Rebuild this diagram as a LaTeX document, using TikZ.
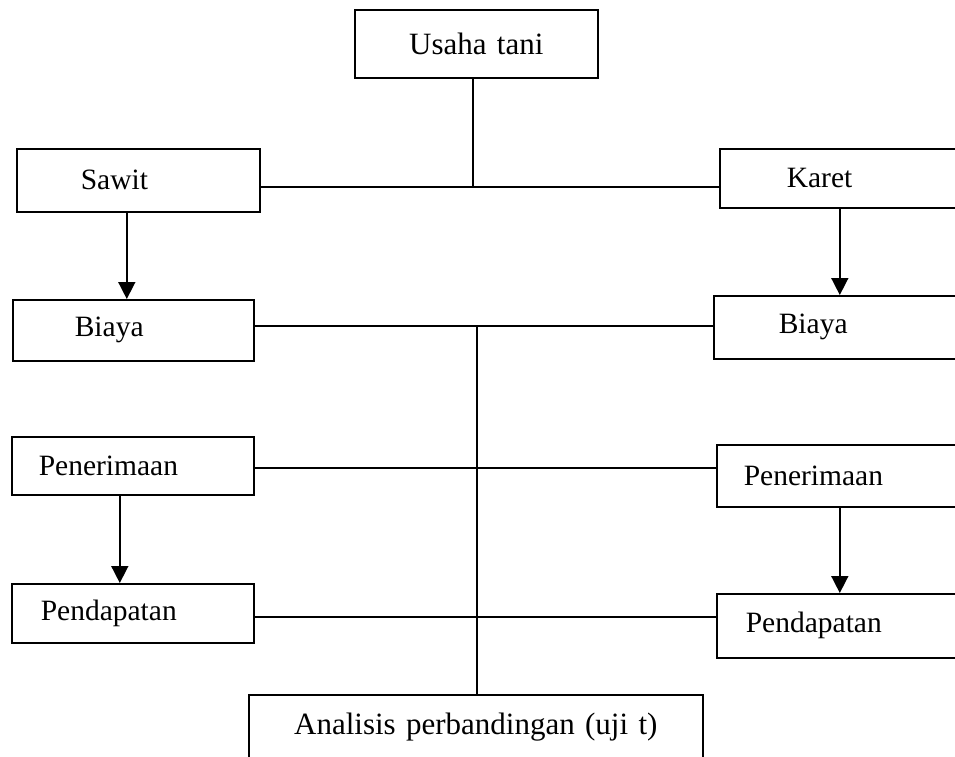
\documentclass[tikz,border=0pt]{standalone}
\usepackage{fontspec}
\setmainfont{Liberation Serif}
\usetikzlibrary{arrows.meta}

\begin{document}
\begin{tikzpicture}[x=1pt,y=-1pt,line width=1.6pt,
    kotak/.style={draw,anchor=north west,inner sep=0pt,align=left,font=\fontsize{29.5}{32}\selectfont},
    judul/.style={kotak,align=center,font=\fontsize{31}{34}\selectfont},
    panah/.style={-{Triangle[width=17pt,length=17pt]}}]
	\useasboundingbox (0,0) rectangle (955,756);
	\clip (0,0) rectangle (955,756);
	\node[judul,text width=243pt,minimum height=68pt] (usaha) at (354,9) {Usaha tani};
	\node[kotak,text width=243pt,minimum height=63pt] (sawit) at (16,148) {\hspace*{64pt}Sawit};
	\node[kotak,text width=250pt,minimum height=59pt] (karet) at (719,148) {\hspace*{67pt}Karet};
	\node[kotak,text width=241pt,minimum height=61pt] (biayaL) at (12,299) {\hspace*{62pt}Biaya};
	\node[kotak,text width=256pt,minimum height=63pt] (biayaR) at (713,295) {\hspace*{65pt}Biaya};
	\node[kotak,text width=242pt,minimum height=58pt] (terimaL) at (11,436) {\hspace*{27pt}Penerimaan};
	\node[kotak,text width=250pt,minimum height=62pt] (terimaR) at (716,444) {\hspace*{27pt}Penerimaan};
	\node[kotak,text width=242pt,minimum height=59pt] (dapatL) at (11,583) {\hspace*{29pt}Pendapatan};
	\node[kotak,text width=250pt,minimum height=64pt] (dapatR) at (716,593) {\hspace*{29pt}Pendapatan};
	\node[judul,text width=454pt,minimum height=64pt] (analisis) at (248,694) {Analisis perbandingan (uji t)};
	\coordinate (cabang) at (473,187);
	\coordinate (tengah) at (477,326);
	\coordinate (garis3) at (477,468);
	\coordinate (garis4) at (477,617);
	\draw (cabang |- usaha.south) -- (cabang);
	\draw (sawit.east |- cabang) -- (karet.west |- cabang);
	\draw[panah] ([xshift=-11.5pt]sawit.south) -- ([xshift=-11.5pt]sawit.south |- biayaL.north);
	\draw[panah] ([xshift=-5pt]karet.south) -- ([xshift=-5pt]karet.south |- biayaR.north);
	\draw (biayaL.east |- tengah) -- (biayaR.west |- tengah);
	\draw (terimaL.east |- garis3) -- (terimaR.west |- garis3);
	\draw[panah] ([xshift=-13pt]terimaL.south) -- ([xshift=-13pt]terimaL.south |- dapatL.north);
	\draw[panah] ([xshift=-2pt]terimaR.south) -- ([xshift=-2pt]terimaR.south |- dapatR.north);
	\draw (dapatL.east |- garis4) -- (dapatR.west |- garis4);
	\draw (tengah) -- (tengah |- analisis.north);
\end{tikzpicture}
\end{document}
